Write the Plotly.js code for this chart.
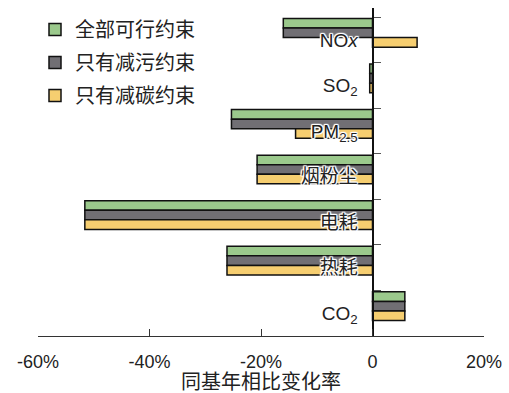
<!DOCTYPE html>
<html>
<head>
<meta charset="utf-8">
<script src="https://cdn.plot.ly/plotly-3.0.1.min.js"></script>
<style>html,body{margin:0;padding:0;background:#fff;}#chart{width:509px;height:393px;}</style>
</head>
<body>
<div id="chart"></div>
<script>
// Data
var categories = ["NO<i>x</i>", "SO<sub>2</sub>", "PM<sub>2.5</sub>", "烟粉尘", "电耗", "热耗", "CO<sub>2</sub>"];
var seriesNames = ["全部可行约束", "只有减污约束", "只有减碳约束"];
var allFeasible = [-16, -0.5, -25.3, -20.7, -51.6, -26.1, 5.8];
var pollutionOnly = [-16, -0.5, -25.3, -20.7, -51.6, -26.1, 5.8];
var carbonOnly = [8, -0.5, -13.8, -20.7, -51.6, -26.1, 5.8];
var xTickVals = [-60, -40, -20, 0, 20];
var xTickText = ["-60%", "-40%", "-20%", "0", "20%"];
var axisTitle = "同基年相比变化率";

var FONT = "Liberation Sans, Arial, 'Noto Sans CJK SC', sans-serif";
var colors = ["#9bc98c", "#716f74", "#f6ce70"];
var offsets = [-0.47, -0.26, -0.05];
var seriesValues = [allFeasible, pollutionOnly, carbonOnly];

var traces = seriesValues.map(function (vals, i) {
  return {
    type: "bar",
    orientation: "h",
    name: seriesNames[i],
    legendgroup: "g" + i,
    x: vals,
    y: categories,
    width: 0.21,
    offset: offsets[i],
    marker: { color: colors[i], line: { color: "#111", width: 1.5 } },
    hoverinfo: "skip"
  };
});

var halo = "1px 1px 1px #fff, -1px -1px 1px #fff, 1px -1px 1px #fff, -1px 1px 1px #fff, 0 1px 1px #fff, 0 -1px 1px #fff, 1px 0 1px #fff, -1px 0 1px #fff";

var layout = {
  width: 509,
  height: 393,
  margin: { l: 38, r: 25, t: 8, b: 57, autoexpand: false },
  paper_bgcolor: "#fff",
  plot_bgcolor: "#fff",
  barmode: "overlay",
  font: { family: FONT, color: "#222" },
  showlegend: true,
  legend: {
    xref: "paper", yref: "container",
    x: -3 / 446, y: 1 - 10 / 393,
    xanchor: "left", yanchor: "top",
    traceorder: "grouped",
    tracegroupgap: 4,
    font: { size: 20, family: FONT, color: "#222" },
    bgcolor: "rgba(0,0,0,0)"
  },
  xaxis: {
    domain: [0, 1],
    range: [-60, 20],
    tickvals: xTickVals,
    ticktext: xTickText,
    ticks: "inside",
    ticklen: 7,
    tickcolor: "#333",
    tickwidth: 1,
    showline: true,
    linecolor: "#333",
    linewidth: 1,
    showgrid: false,
    zeroline: false,
    automargin: false,
    tickfont: { size: 18, family: FONT, color: "#222" },
    ticklabelstandoff: 9,
    title: { text: axisTitle, font: { size: 20, family: FONT, color: "#222" }, standoff: 6 },
    fixedrange: true
  },
  yaxis: {
    type: "category",
    categoryorder: "array",
    categoryarray: categories,
    range: [6.5, -0.7],
    anchor: "free",
    position: 0.75,
    automargin: false,
    showline: true,
    linecolor: "#111",
    linewidth: 2,
    ticks: "inside",
    tickson: "boundaries",
    ticklen: 7,
    tickcolor: "#555",
    tickwidth: 1,
    showgrid: false,
    zeroline: false,
    tickfont: { size: 19, family: FONT, color: "#222", shadow: halo },
    ticklabelstandoff: 10,
    fixedrange: true
  }
};

Plotly.newPlot("chart", traces, layout, { displayModeBar: false, staticPlot: true });
</script>
</body>
</html>
